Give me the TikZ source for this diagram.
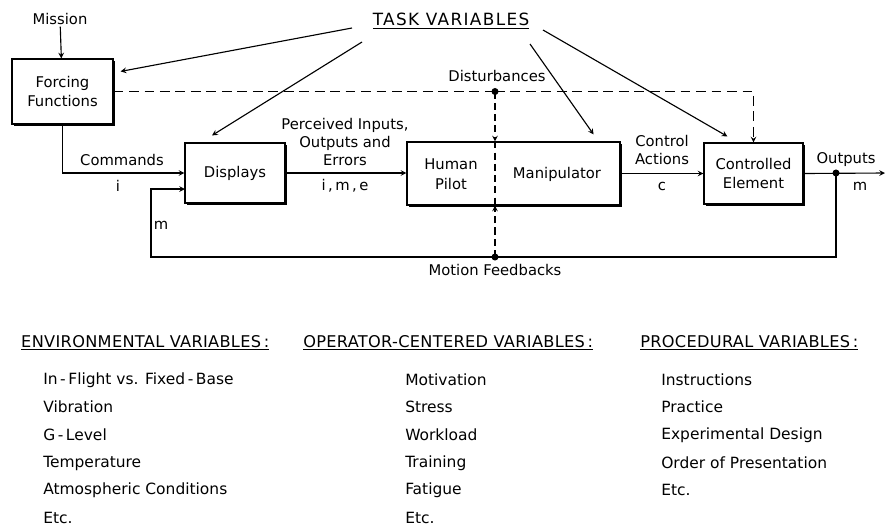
\documentclass[tikz,border=0pt]{standalone}
\usepackage{fontspec}
\setmainfont{DejaVu Sans}
\usetikzlibrary{calc,shadows}

\begin{document}
\begin{tikzpicture}[x=0.025cm,y=-0.025cm,line width=0.8pt,>=stealth,
    font=\fontsize{10.5}{13}\selectfont,
    blk/.style={draw,fill=white,inner sep=0pt,align=center,
        font=\fontsize{10.5}{14}\selectfont,
        drop shadow={shadow xshift=1.2pt,shadow yshift=-1.2pt,opacity=1,fill=black}},
    lbl/.style={inner sep=1pt,align=center},
    dot/.style={circle,fill,inner sep=0pt,minimum size=5pt},
    hdr/.style={anchor=west,font=\fontsize{11.5}{13}\selectfont\addfontfeatures{LetterSpace=2}},
    item/.style={anchor=west,font=\fontsize{11}{13}\selectfont},
    dashl/.style={dash pattern=on 7pt off 4pt},
    dashs/.style={dash pattern=on 5pt off 3pt}]
    \useasboundingbox (0,0) rectangle (885,527);

    % blocks
    \node[blk,minimum width=2.525cm,minimum height=1.625cm] (ff) at (62.5,91.5) {Forcing\\Functions};
    \node[blk,minimum width=2.5cm,minimum height=1.5cm] (disp) at (235,173) {Displays};
    \node[blk,minimum width=5.325cm,minimum height=1.575cm] (hp) at (513.5,173.5) {};
    \node[lbl,font=\fontsize{10.5}{14}\selectfont] (pilot) at (451,174) {Human\\Pilot};
    \node[lbl] (manip) at (557,174) {Manipulator};
    \node[blk,minimum width=2.475cm,minimum height=1.525cm] (ce) at (753.5,173.5) {Controlled\\Element};

    \node[lbl,font=\fontsize{12}{14}\selectfont\addfontfeatures{LetterSpace=8}] (tv) at (451,21) {\underline{TASK VARIABLES}};
    \node[lbl] (mission) at (60,19) {Mission};

    % points
    \coordinate (dist) at (495,91.5);
    \coordinate (motion) at (495,257);
    \coordinate (outj) at (836,173);
    \coordinate (outend) at (885,173);
    \coordinate (fbl) at (151,257);
    \coordinate (fbin) at (185,189);
    \coordinate (tvA) at (352,28);
    \coordinate (tvB) at (362,42);
    \coordinate (tvC) at (530,44);
    \coordinate (tvD) at (543,30);

    % signal flow
    \draw[->] (mission) -- (ff);
    \draw[->] (ff.south) |- (disp.west);
    \draw[->] (disp.east) -- (disp.east -| hp.west);
    \draw[->] (hp.east |- ce.west) -- (ce.west);
    \draw[->] (ce.east) -- (outend);
    \draw[->] (outj) |- (fbl) |- (fbin);
    \node[dot] at (outj) {};

    % task variables
    \draw[->] (tvA) -- ($(ff.north east)+(7,13)$);
    \draw[->] (tvB) -- ($(disp.north)+(-23,-7)$);
    \draw[->] (tvC) -- ($(hp.north east)+(-27,-7)$);
    \draw[->] (tvD) -- ($(ce.north west)+(24,-6)$);

    % disturbances and motion
    \draw[dashl] (ff.east) -- (dist);
    \draw[dashl,->] (dist) -| (ce.north);
    \draw[dashs,->] (dist) -- (dist |- hp.north);
    \draw[dashs] (dist |- hp.north) -- (dist |- hp.south);
    \draw[dashs,->] (motion) -- (motion |- hp.south);
    \node[dot] at (dist) {};
    \node[dot] at (motion) {};

    % labels
    \node[lbl] (cmd) at (122,160) {Commands};
    \node[lbl] (cmdi) at (118,186) {i};
    \node[lbl] (fbm) at (161,225) {m};
    \node[lbl,font=\fontsize{10.5}{12.5}\selectfont] (perc) at (345,142) {Perceived Inputs,\\Outputs and\\Errors};
    \node[lbl] (ime) at (345,186) {i\,,\,m\,,\,e};
    \node[lbl] (distl) at (497,76) {Disturbances};
    \node[lbl,font=\fontsize{10.5}{12.5}\selectfont] (ctrl) at (662,150) {Control\\Actions};
    \node[lbl] (ctrlc) at (662,186) {c};
    \node[lbl] (outl) at (846,160) {Outputs};
    \node[lbl] (outm) at (860,186) {m};
    \node[lbl] (motl) at (495,270) {Motion Feedbacks};

    % variable lists
    \node[hdr] (env) at (16,343) {\underline{ENVIRONMENTAL VARIABLES\,:}};
    \node[hdr] (opc) at (298,343) {\underline{OPERATOR-CENTERED VARIABLES\,:}};
    \node[hdr] (proc) at (635,343) {\underline{PROCEDURAL VARIABLES\,:}};

    \node[item] (env1) at (38,380) {In\,-\,Flight vs. Fixed\,-\,Base};
    \node[item] (env2) at (38,407) {Vibration};
    \node[item] (env3) at (38,435) {G\,-\,Level};
    \node[item] (env4) at (38,463) {Temperature};
    \node[item] (env5) at (38,490) {Atmospheric Conditions};
    \node[item] (env6) at (38,518) {Etc.};

    \node[item] (opc1) at (400,380) {Motivation};
    \node[item] (opc2) at (400,407) {Stress};
    \node[item] (opc3) at (400,435) {Workload};
    \node[item] (opc4) at (400,463) {Training};
    \node[item] (opc5) at (400,490) {Fatigue};
    \node[item] (opc6) at (400,518) {Etc.};

    \node[item] (proc1) at (656,380) {Instructions};
    \node[item] (proc2) at (656,407) {Practice};
    \node[item] (proc3) at (656,435) {Experimental Design};
    \node[item] (proc4) at (656,463) {Order of Presentation};
    \node[item] (proc5) at (656,490) {Etc.};
\end{tikzpicture}
\end{document}
